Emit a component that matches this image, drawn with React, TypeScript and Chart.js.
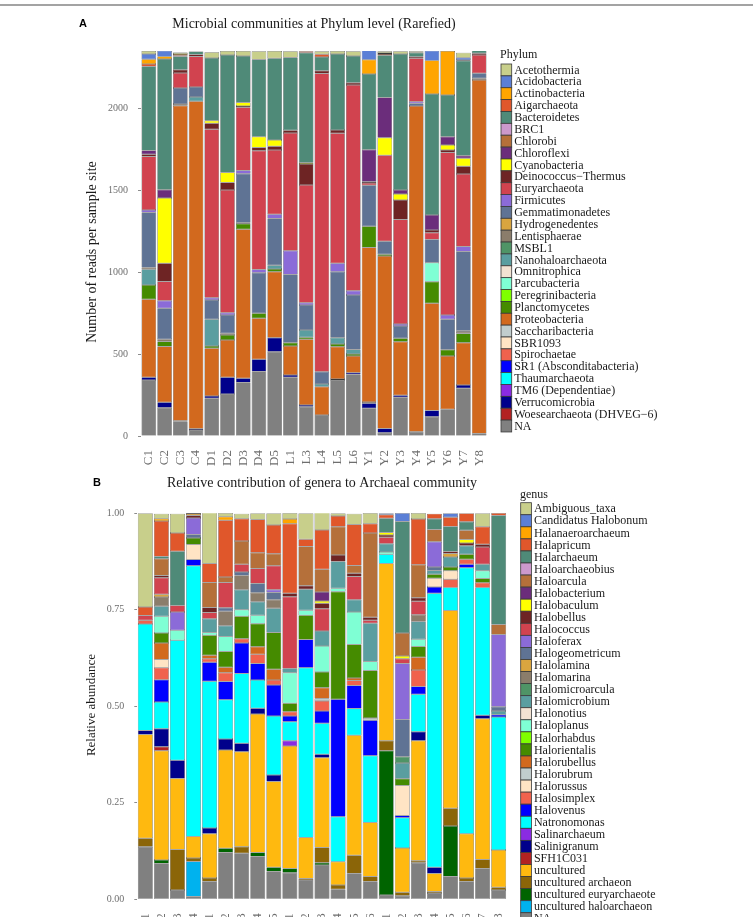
import { useEffect, useRef } from "react";
import { Chart, registerables } from "chart.js";

Chart.register(...registerables);

const SERIF = "'Liberation Serif', 'Times New Roman', serif";
const SANS = "'Liberation Sans', Arial, sans-serif";
const EDGE = "rgba(35,35,35,0.9)";

// ---------- Panel A: reads per phylum (rarefied) ----------
const sitesA = ["C1", "C2", "C3", "C4", "D1", "D2", "D3", "D4", "D5", "L1", "L3", "L4", "L5", "L6", "Y1", "Y2", "Y3", "Y4", "Y5", "Y6", "Y7", "Y8"];

const phylumNames = [
  "Acetothermia", "Acidobacteria", "Actinobacteria", "Aigarchaeota", "Bacteroidetes", "BRC1", "Chlorobi",
  "Chloroflexi", "Cyanobacteria", "Deinococcus\u2212Thermus", "Euryarchaeota", "Firmicutes", "Gemmatimonadetes",
  "Hydrogenedentes", "Lentisphaerae", "MSBL1", "Nanohaloarchaeota", "Omnitrophica", "Parcubacteria",
  "Peregrinibacteria", "Planctomycetes", "Proteobacteria", "Saccharibacteria", "SBR1093", "Spirochaetae",
  "SR1 (Absconditabacteria)", "Thaumarchaeota", "TM6 (Dependentiae)", "Verrucomicrobia",
  "Woesearchaeota (DHVEG\u22126)", "NA",
];

const phylumColors = [
  "#c8cf8b", "#5b7fd6", "#ffa500", "#e0572b", "#4f8a78", "#cc99cc", "#b5703a",
  "#6b2d7b", "#ffff00", "#6e2424", "#d1434f", "#8b6bd8", "#5f7394",
  "#d9a53f", "#8b7d6b", "#4f9466", "#5a9ea0", "#f2e2d2", "#7fffd4",
  "#7fff00", "#458b00", "#d2691e", "#c1cdcd", "#ffe4c4", "#f0624d",
  "#0000ff", "#00ffff", "#8a2be2", "#00008b",
  "#b22222", "#808080",
];

const acetothermia = [18, 0, 10, 0, 35, 24, 30, 51, 45, 39, 0, 18, 18, 30, 0, 10, 18, 10, 0, 0, 30, 0];
const acidobacteria = [33, 35, 0, 0, 0, 0, 0, 0, 0, 0, 0, 0, 0, 0, 59, 0, 0, 0, 59, 0, 14, 0];
const actinobacteria = [28, 16, 7, 0, 0, 0, 0, 0, 0, 0, 0, 0, 0, 0, 88, 7, 0, 0, 204, 269, 4, 0];
const aigarchaeota = [16, 0, 7, 0, 0, 0, 0, 0, 0, 0, 10, 16, 0, 0, 0, 7, 0, 0, 0, 0, 0, 0];
const bacteroidetes = [513, 798, 81, 18, 383, 718, 285, 472, 499, 444, 671, 85, 464, 163, 462, 258, 830, 24, 739, 254, 580, 20];
const brc1 = [0, 0, 0, 0, 0, 0, 0, 0, 0, 0, 0, 0, 0, 0, 0, 0, 0, 0, 0, 0, 0, 0];
const chlorobi = [0, 0, 0, 0, 0, 0, 0, 0, 0, 0, 0, 0, 0, 0, 0, 0, 0, 0, 0, 0, 0, 0];
const chloroflexi = [22, 51, 0, 0, 0, 0, 0, 0, 0, 0, 0, 0, 0, 0, 195, 246, 24, 0, 92, 51, 16, 0];
const cyanobacteria = [0, 397, 0, 0, 16, 61, 20, 65, 37, 0, 8, 0, 0, 0, 0, 106, 37, 0, 0, 30, 49, 0];
const deinococcusThermus = [14, 112, 20, 12, 37, 45, 8, 20, 24, 16, 128, 16, 20, 14, 8, 0, 118, 10, 16, 16, 47, 10];
const euryarchaeota = [326, 118, 92, 187, 1028, 749, 387, 724, 391, 720, 718, 1821, 794, 1256, 14, 525, 639, 265, 41, 991, 442, 112];
const firmicutes = [16, 45, 0, 0, 14, 14, 20, 20, 26, 144, 14, 0, 51, 26, 0, 0, 12, 10, 0, 26, 31, 0];
const gemmatimonadetes = [336, 189, 98, 61, 118, 112, 299, 248, 285, 417, 153, 75, 403, 332, 250, 79, 75, 16, 142, 187, 484, 31];
const hydrogenedentes = [0, 0, 0, 0, 0, 0, 6, 0, 0, 0, 0, 0, 0, 0, 0, 0, 0, 0, 0, 0, 6, 0];
const lentisphaerae = [10, 14, 10, 0, 0, 10, 0, 0, 0, 0, 0, 0, 0, 0, 0, 0, 0, 0, 0, 0, 10, 10];
const msbl1 = [0, 0, 0, 0, 0, 0, 0, 0, 0, 0, 0, 0, 0, 0, 0, 0, 0, 0, 0, 0, 0, 0];
const nanohaloarchaeota = [96, 0, 0, 26, 163, 0, 0, 0, 24, 0, 45, 16, 39, 28, 0, 0, 0, 0, 0, 0, 0, 0];
const omnitrophica = [0, 0, 0, 0, 0, 0, 0, 0, 0, 0, 0, 0, 0, 0, 0, 0, 0, 0, 0, 0, 0, 0];
const parcubacteria = [0, 0, 0, 0, 0, 0, 0, 0, 0, 0, 0, 0, 0, 0, 0, 0, 0, 0, 116, 0, 0, 0];
const peregrinibacteria = [0, 0, 0, 0, 0, 0, 0, 0, 0, 0, 0, 0, 0, 0, 0, 0, 0, 0, 0, 0, 0, 0];
const planctomycetes = [88, 31, 0, 0, 14, 31, 33, 31, 16, 20, 12, 0, 16, 12, 130, 12, 20, 0, 132, 37, 57, 0];
const proteobacteria = [476, 340, 1923, 1998, 291, 228, 910, 250, 403, 177, 401, 173, 197, 102, 942, 1052, 328, 1988, 655, 326, 258, 2157];
const saccharibacteria = [0, 0, 0, 0, 0, 0, 0, 0, 0, 0, 0, 0, 0, 0, 0, 0, 0, 0, 0, 0, 0, 0];
const sbr1093 = [0, 0, 0, 0, 0, 0, 0, 0, 0, 0, 0, 0, 0, 0, 8, 0, 0, 0, 0, 0, 0, 0];
const spirochaetae = [0, 0, 0, 0, 0, 0, 0, 0, 0, 0, 0, 0, 0, 0, 0, 0, 0, 0, 0, 0, 0, 0];
const sr1 = [0, 0, 0, 0, 0, 0, 0, 0, 0, 0, 0, 0, 0, 0, 0, 0, 0, 0, 0, 0, 0, 0];
const thaumarchaeota = [0, 0, 5, 0, 0, 0, 0, 0, 0, 0, 0, 0, 0, 0, 0, 0, 0, 0, 0, 0, 0, 0];
const tm6 = [0, 0, 0, 0, 0, 0, 0, 0, 0, 0, 0, 0, 0, 0, 0, 0, 0, 0, 0, 0, 0, 0];
const verrucomicrobia = [16, 33, 0, 8, 14, 102, 26, 75, 85, 14, 10, 0, 6, 10, 31, 26, 12, 0, 37, 0, 20, 0];
const woesearchaeota = [0, 0, 0, 0, 0, 0, 0, 0, 0, 0, 0, 0, 0, 0, 0, 0, 0, 0, 0, 0, 0, 0];
const phylumNA = [342, 173, 88, 37, 230, 256, 326, 393, 515, 358, 179, 128, 342, 376, 169, 20, 236, 26, 118, 163, 291, 16];

const phylumValues = [
  acetothermia, acidobacteria, actinobacteria, aigarchaeota, bacteroidetes, brc1, chlorobi,
  chloroflexi, cyanobacteria, deinococcusThermus, euryarchaeota, firmicutes, gemmatimonadetes,
  hydrogenedentes, lentisphaerae, msbl1, nanohaloarchaeota, omnitrophica, parcubacteria,
  peregrinibacteria, planctomycetes, proteobacteria, saccharibacteria, sbr1093, spirochaetae,
  sr1, thaumarchaeota, tm6, verrucomicrobia, woesearchaeota, phylumNA,
];

const readTicks = [0, 500, 1000, 1500, 2000];
const readMax = 2350;

// ---------- Panel B: relative abundance of archaeal genera ----------
const sitesB = ["C1", "C2", "C3", "C4", "D1", "D2", "D3", "D4", "D5", "L1", "L2", "L3", "L4", "L5", "L6", "Y1", "Y2", "Y3", "Y4", "Y5", "Y6", "Y7", "Y8"];

const genusNames = [
  "Ambiguous_taxa", "Candidatus Halobonum", "Halanaeroarchaeum", "Halapricum", "Halarchaeum",
  "Haloarchaeobius", "Haloarcula", "Halobacterium", "Halobaculum", "Halobellus", "Halococcus",
  "Haloferax", "Halogeometricum", "Halolamina", "Halomarina", "Halomicroarcula", "Halomicrobium",
  "Halonotius", "Haloplanus", "Halorhabdus", "Halorientalis", "Halorubellus", "Halorubrum",
  "Halorussus", "Halosimplex", "Halovenus", "Natronomonas", "Salinarchaeum", "Salinigranum",
  "SFH1C031", "uncultured", "uncultured archaeon", "uncultured euryarchaeote",
  "uncultured haloarchaeon", "NA",
];

const genusColors = [
  "#c8cf8b", "#5b7fd6", "#ffa500", "#e0572b", "#4f8a78",
  "#cc99cc", "#b5703a", "#6b2d7b", "#ffff00", "#6e2424", "#d1434f",
  "#8b6bd8", "#5f7394", "#d9a53f", "#8b7d6b", "#4f9466", "#5a9ea0",
  "#f2e2d2", "#7fffd4", "#7fff00", "#458b00", "#d2691e", "#c1cdcd",
  "#ffe4c4", "#f0624d", "#0000ff", "#00ffff", "#8a2be2", "#00008b",
  "#b22222", "#ffb90f", "#8b6508", "#006400",
  "#00b2ee", "#808080",
];

const ambiguousTaxa = [0.243, 0.013, 0.05, 0.003, 0.132, 0.01, 0.013, 0.016, 0.03, 0.016, 0.067, 0.045, 0.007, 0.028, 0.028, 0, 0, 0.016, 0, 0, 0, 0.035, 0];
const candidatusHalobonum = [0, 0, 0, 0, 0, 0, 0, 0, 0, 0, 0, 0, 0, 0, 0, 0.004, 0.022, 0, 0, 0.01, 0, 0, 0];
const halanaeroarchaeum = [0, 0.006, 0, 0.004, 0, 0.009, 0, 0, 0, 0.012, 0, 0, 0, 0, 0, 0, 0, 0, 0, 0, 0, 0, 0];
const halapricum = [0.022, 0.092, 0.047, 0, 0.049, 0.147, 0.058, 0.086, 0.075, 0.18, 0.019, 0.102, 0.028, 0.106, 0.024, 0.009, 0, 0.118, 0.013, 0.024, 0.022, 0.045, 0.007];
const halarchaeum = [0, 0.006, 0.141, 0, 0, 0, 0, 0, 0, 0, 0, 0, 0, 0, 0, 0.037, 0.289, 0, 0.028, 0.065, 0.022, 0, 0.282];
const haloarchaeobius = [0, 0, 0, 0, 0, 0, 0, 0, 0, 0, 0, 0, 0, 0, 0, 0, 0, 0, 0, 0, 0, 0, 0];
const haloarcula = [0, 0.043, 0, 0, 0.065, 0.014, 0.06, 0.041, 0.031, 0, 0.102, 0.059, 0.073, 0.02, 0.218, 0, 0.06, 0.086, 0.032, 0, 0.024, 0, 0.026];
const halobacterium = [0, 0, 0, 0, 0, 0, 0, 0, 0, 0, 0, 0.023, 0, 0, 0, 0, 0, 0, 0, 0, 0, 0, 0];
const halobaculum = [0, 0, 0, 0, 0, 0, 0, 0, 0, 0, 0, 0.006, 0, 0, 0, 0.006, 0.007, 0, 0, 0, 0.009, 0, 0];
const halobellus = [0, 0.006, 0, 0.006, 0.013, 0, 0, 0, 0, 0.009, 0.009, 0.014, 0.017, 0.009, 0.008, 0.006, 0, 0.009, 0, 0.005, 0.007, 0.007, 0];
const halococcus = [0.012, 0.043, 0.017, 0, 0.016, 0.066, 0.02, 0.039, 0.062, 0.186, 0, 0.058, 0, 0.06, 0.008, 0.017, 0.012, 0.035, 0, 0, 0, 0.045, 0];
const haloferax = [0, 0, 0.047, 0.043, 0, 0, 0, 0, 0.007, 0, 0, 0, 0, 0, 0, 0, 0.145, 0, 0.065, 0, 0, 0, 0.187];
const halogeometricum = [0, 0, 0, 0.009, 0, 0.009, 0.009, 0.024, 0.019, 0, 0, 0, 0, 0, 0, 0, 0.097, 0, 0.009, 0, 0, 0, 0.011];
const halolamina = [0, 0.007, 0, 0, 0, 0, 0, 0, 0, 0, 0, 0, 0, 0, 0, 0, 0, 0, 0, 0.009, 0, 0, 0];
const halomarina = [0, 0.024, 0, 0, 0, 0.037, 0.037, 0.023, 0.022, 0, 0, 0, 0, 0, 0, 0, 0, 0.017, 0, 0, 0, 0, 0];
const halomicroarcula = [0, 0, 0, 0, 0, 0, 0, 0, 0, 0, 0, 0, 0, 0, 0, 0, 0.016, 0, 0, 0, 0, 0, 0];
const halomicrobium = [0, 0.026, 0, 0, 0.036, 0.028, 0.052, 0.035, 0.063, 0.011, 0.054, 0.039, 0.069, 0.032, 0.099, 0.021, 0.041, 0.046, 0.01, 0.026, 0.022, 0.017, 0.01];
const halonotius = [0, 0, 0, 0, 0, 0, 0, 0, 0, 0, 0, 0, 0, 0, 0, 0, 0, 0, 0, 0, 0, 0, 0];
const haloplanus = [0, 0.043, 0.026, 0, 0.007, 0.039, 0.017, 0.022, 0, 0.079, 0.013, 0.067, 0.009, 0.084, 0.023, 0.006, 0, 0.019, 0, 0, 0, 0.02, 0];
const halorhabdus = [0, 0, 0, 0, 0, 0, 0, 0, 0, 0, 0, 0, 0, 0, 0, 0, 0, 0, 0, 0, 0, 0, 0];
const halorientalis = [0, 0.026, 0, 0.017, 0.052, 0.041, 0.058, 0.06, 0.095, 0.022, 0.063, 0.041, 0.279, 0.087, 0.123, 0, 0.017, 0.028, 0.01, 0.01, 0.013, 0.011, 0];
const halorubellus = [0, 0.043, 0, 0, 0.009, 0.014, 0, 0.019, 0.028, 0, 0, 0.028, 0, 0.006, 0, 0, 0, 0.033, 0, 0, 0, 0, 0];
const halorubrum = [0, 0, 0, 0, 0, 0, 0, 0, 0, 0, 0, 0.006, 0, 0, 0.006, 0, 0, 0, 0, 0, 0, 0, 0];
const halorussus = [0, 0.021, 0, 0.039, 0, 0, 0, 0, 0, 0, 0, 0, 0, 0, 0, 0, 0.078, 0, 0.023, 0.022, 0, 0, 0];
const halosimplex = [0.01, 0.031, 0, 0, 0.009, 0.023, 0.011, 0.024, 0.013, 0.011, 0, 0.026, 0, 0.013, 0, 0, 0, 0.043, 0, 0.021, 0.013, 0.012, 0];
const halovenus = [0, 0.058, 0, 0.016, 0.049, 0.047, 0.079, 0.043, 0.08, 0.015, 0.073, 0.032, 0.304, 0.06, 0.092, 0, 0.006, 0.02, 0.016, 0, 0.009, 0, 0.006];
const natronomonas = [0.276, 0.069, 0.311, 0.701, 0.38, 0.102, 0.181, 0.073, 0.153, 0.049, 0.44, 0.08, 0.117, 0.069, 0.173, 0.024, 0.078, 0.097, 0.71, 0.06, 0.689, 0.331, 0.344];
const salinarchaeum = [0, 0, 0, 0, 0, 0, 0, 0, 0, 0.014, 0, 0, 0, 0, 0, 0, 0, 0, 0, 0, 0, 0, 0];
const salinigranum = [0.01, 0.047, 0.047, 0, 0.015, 0.028, 0.022, 0.015, 0.017, 0, 0, 0.009, 0, 0, 0, 0, 0, 0.023, 0.016, 0, 0, 0.009, 0];
const sfh1c031 = [0, 0.01, 0, 0, 0, 0, 0, 0, 0, 0, 0, 0, 0, 0, 0, 0, 0, 0, 0, 0, 0, 0, 0];
const uncultured = [0.269, 0.283, 0.184, 0.056, 0.115, 0.255, 0.246, 0.359, 0.222, 0.317, 0.106, 0.233, 0.06, 0.311, 0.14, 0.459, 0.115, 0.311, 0.047, 0.512, 0.115, 0.365, 0.097];
const unculturedArchaeon = [0.022, 0, 0.105, 0.009, 0.009, 0, 0.017, 0, 0, 0, 0.004, 0.039, 0.011, 0.047, 0.013, 0.026, 0.009, 0.005, 0.004, 0.046, 0.009, 0.023, 0.007];
const unculturedEuryarchaeote = [0, 0.009, 0, 0, 0, 0.011, 0, 0.01, 0.011, 0.011, 0, 0.006, 0, 0, 0, 0.374, 0, 0, 0, 0.131, 0, 0, 0];
const unculturedHaloarchaeon = [0, 0, 0, 0.091, 0, 0, 0, 0, 0, 0, 0, 0, 0, 0, 0, 0, 0, 0, 0, 0, 0, 0, 0];
const genusNA = [0.136, 0.093, 0.024, 0.007, 0.046, 0.121, 0.119, 0.111, 0.072, 0.069, 0.05, 0.089, 0.026, 0.067, 0.046, 0.011, 0.009, 0.095, 0.016, 0.059, 0.046, 0.08, 0.024];

const genusValues = [
  ambiguousTaxa, candidatusHalobonum, halanaeroarchaeum, halapricum, halarchaeum,
  haloarchaeobius, haloarcula, halobacterium, halobaculum, halobellus, halococcus,
  haloferax, halogeometricum, halolamina, halomarina, halomicroarcula, halomicrobium,
  halonotius, haloplanus, halorhabdus, halorientalis, halorubellus, halorubrum,
  halorussus, halosimplex, halovenus, natronomonas, salinarchaeum, salinigranum,
  sfh1c031, uncultured, unculturedArchaeon, unculturedEuryarchaeote,
  unculturedHaloarchaeon, genusNA,
];

const abundanceTicks = [0, 0.25, 0.5, 0.75, 1];
const abundanceMax = 1;

// ---------- shared panel builder ----------
type PanelSpec = {
  labels: string[];
  names: string[];
  colors: string[];
  values: number[][];
  max: number;
  ticks: number[];
  tickText: (v: number) => string;
  width: number;
  height: number;
  area: { top: number; bottom: number; left: number; right: number };
  barPct: number;
  letter: string;
  letterX: number;
  letterY: number;
  title: string;
  titleY: number;
  yTitle: string;
  yTitleX: number;
  yTitleY: number;
  yTitleSize: number;
  legendTitle: string;
  legendTitleX: number;
  legendTitleY: number;
  legendX: number;
  legendY: number;
  legendRow: number;
  legendBox: number;
  legendSize: number;
};

const Y_AXIS_W = 40;
const X_AXIS_H = 30;

function panelDecor(p: PanelSpec) {
  return {
    id: "panelDecor",
    afterDraw(chart: Chart) {
      const ctx = chart.ctx;
      const area = chart.chartArea;
      ctx.save();
      ctx.textBaseline = "middle";

      // panel letter
      ctx.fillStyle = "#000";
      ctx.font = `bold 11px ${SANS}`;
      ctx.textAlign = "left";
      ctx.fillText(p.letter, p.letterX, p.letterY);

      // panel title, centred over the plotting area
      ctx.fillStyle = "#1a1a1a";
      ctx.font = `14px ${SERIF}`;
      ctx.textAlign = "center";
      ctx.fillText(p.title, (area.left + area.right) / 2, p.titleY);

      // y axis title
      ctx.save();
      ctx.translate(p.yTitleX, p.yTitleY);
      ctx.rotate(-Math.PI / 2);
      ctx.font = `${p.yTitleSize}px ${SERIF}`;
      ctx.fillStyle = "#1a1a1a";
      ctx.fillText(p.yTitle, 0, 0);
      ctx.restore();

      // legend
      ctx.textAlign = "left";
      ctx.font = `${p.legendSize}px ${SERIF}`;
      ctx.fillStyle = "#1a1a1a";
      ctx.fillText(p.legendTitle, p.legendTitleX, p.legendTitleY);
      p.names.forEach((name, i) => {
        const y = p.legendY + i * p.legendRow;
        ctx.fillStyle = p.colors[i];
        ctx.fillRect(p.legendX, y, p.legendBox, p.legendRow);
        ctx.strokeStyle = "#3a3a3a";
        ctx.lineWidth = 0.8;
        ctx.strokeRect(p.legendX, y, p.legendBox, p.legendRow);
        ctx.fillStyle = "#1a1a1a";
        ctx.fillText(name, p.legendX + p.legendBox + 2.5, y + p.legendRow / 2 + 0.5);
      });
      ctx.restore();
    },
  };
}

function buildPanel(canvas: HTMLCanvasElement, p: PanelSpec) {
  // stacked from the bottom: last legend entry sits lowest
  const datasets = p.names
    .map((name, i) => ({
      label: name,
      data: p.values[i],
      backgroundColor: p.colors[i],
      borderColor: EDGE,
      borderWidth: 0.5,
      borderSkipped: false as const,
      barPercentage: p.barPct,
      categoryPercentage: 1,
    }))
    .reverse();

  return new Chart(canvas, {
    type: "bar",
    data: { labels: p.labels, datasets },
    options: {
      animation: false,
      responsive: false,
      maintainAspectRatio: false,
      layout: {
        padding: {
          top: p.area.top,
          left: p.area.left - Y_AXIS_W,
          right: p.width - p.area.right,
          bottom: p.height - p.area.bottom - X_AXIS_H,
        },
      },
      plugins: {
        legend: { display: false },
        title: { display: false },
        tooltip: { enabled: false },
      },
      scales: {
        x: {
          stacked: true,
          grid: { display: false },
          border: { display: false },
          ticks: {
            autoSkip: false,
            minRotation: 90,
            maxRotation: 90,
            padding: 6,
            color: "#6e6e6e",
            font: { family: SERIF, size: 13 },
          },
          afterFit: (s: any) => {
            s.height = X_AXIS_H;
          },
        },
        y: {
          stacked: true,
          min: 0,
          max: p.max,
          grid: { drawOnChartArea: false, drawTicks: true, tickLength: 3, color: "#8c8c8c", lineWidth: 1 },
          border: { display: false },
          ticks: {
            padding: 10,
            color: "#6e6e6e",
            font: { family: SERIF, size: 10 },
            callback: (v: any) => p.tickText(Number(v)),
          },
          afterBuildTicks: (s: any) => {
            s.ticks = p.ticks.map((v) => ({ value: v }));
          },
          afterFit: (s: any) => {
            s.width = Y_AXIS_W;
          },
        },
      },
    },
    plugins: [panelDecor(p)],
  });
}

const W = 753;
const TOP_H = 470;
const BOTTOM_OFFSET = 470;
const BOTTOM_H = 470;

const panelA: PanelSpec = {
  labels: sitesA,
  names: phylumNames,
  colors: phylumColors,
  values: phylumValues,
  max: readMax,
  ticks: readTicks,
  tickText: (v) => String(v),
  width: W,
  height: TOP_H,
  area: { top: 51, bottom: 436, left: 141, right: 487 },
  barPct: 0.93,
  letter: "A",
  letterX: 79,
  letterY: 24,
  title: "Microbial communities at Phylum level (Rarefied)",
  titleY: 24,
  yTitle: "Number of reads per sample site",
  yTitleX: 92,
  yTitleY: 252,
  yTitleSize: 14,
  legendTitle: "Phylum",
  legendTitleX: 500,
  legendTitleY: 55,
  legendX: 501,
  legendY: 64,
  legendRow: 11.87,
  legendBox: 10.7,
  legendSize: 12,
};

const panelB: PanelSpec = {
  labels: sitesB,
  names: genusNames,
  colors: genusColors,
  values: genusValues,
  max: abundanceMax,
  ticks: abundanceTicks,
  tickText: (v) => v.toFixed(2),
  width: W,
  height: BOTTOM_H,
  area: { top: 43.3, bottom: 429.3, left: 137.3, right: 506.7 },
  barPct: 0.93,
  letter: "B",
  letterX: 93,
  letterY: 13,
  title: "Relative contribution of genera to Archaeal community",
  titleY: 13,
  yTitle: "Relative abundance",
  yTitleX: 92,
  yTitleY: 235,
  yTitleSize: 13,
  legendTitle: "genus",
  legendTitleX: 520,
  legendTitleY: 25,
  legendX: 520.7,
  legendY: 32.7,
  legendRow: 12.06,
  legendBox: 10.7,
  legendSize: 12,
};

export default function App() {
  const topRef = useRef<HTMLCanvasElement>(null);
  const bottomRef = useRef<HTMLCanvasElement>(null);

  useEffect(() => {
    const a = buildPanel(topRef.current as HTMLCanvasElement, panelA);
    const b = buildPanel(bottomRef.current as HTMLCanvasElement, panelB);
    return () => {
      a.destroy();
      b.destroy();
    };
  }, []);

  return (
    <div
      style={{
        position: "absolute",
        left: 0,
        top: 0,
        width: W,
        height: 917,
        overflow: "hidden",
        background: "#ffffff",
      }}
    >
      <div style={{ position: "absolute", left: 0, top: 4, width: W, height: 2, background: "#a3a3a3" }} />
      <canvas
        ref={topRef}
        width={W}
        height={TOP_H}
        style={{ position: "absolute", left: 0, top: 0, display: "block" }}
      />
      <canvas
        ref={bottomRef}
        width={W}
        height={BOTTOM_H}
        style={{ position: "absolute", left: 0, top: BOTTOM_OFFSET, display: "block" }}
      />
    </div>
  );
}
